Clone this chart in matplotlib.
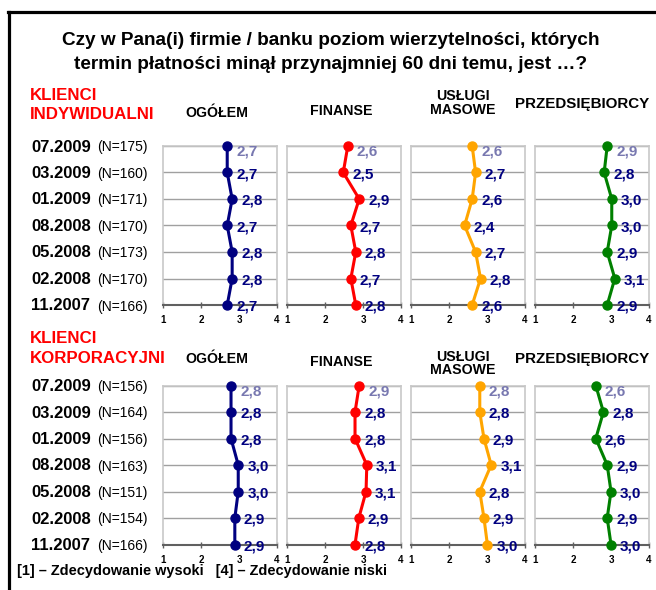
import matplotlib
matplotlib.use("Agg")
import matplotlib.pyplot as plt
from matplotlib.lines import Line2D

plt.rcParams['font.family'] = ['Liberation Sans', 'DejaVu Sans']

W, H = 656, 590

dates = ['07.2009', '03.2009', '01.2009', '08.2008', '05.2008', '02.2008', '11.2007']
n_ind = [175, 160, 171, 170, 173, 170, 166]
n_korp = [156, 164, 156, 163, 151, 154, 166]

segments = ['OGÓŁEM', 'FINANSE', 'USŁUGI\nMASOWE', 'PRZEDSIĘBIORCY']
seg_colors = ['#000080', '#FF0000', '#FFA500', '#008000']

# Klienci indywidualni
ind_ogolem = [2.69, 2.69, 2.82, 2.69, 2.82, 2.82, 2.69]
ind_finanse = [2.60, 2.48, 2.90, 2.68, 2.81, 2.68, 2.81]
ind_uslugi = [2.61, 2.70, 2.61, 2.41, 2.70, 2.83, 2.61]
ind_przeds = [2.90, 2.82, 3.02, 3.02, 2.90, 3.10, 2.90]

# Klienci korporacyjni
korp_ogolem = [2.79, 2.79, 2.79, 2.98, 2.98, 2.89, 2.89]
korp_finanse = [2.90, 2.79, 2.79, 3.10, 3.08, 2.89, 2.79]
korp_uslugi = [2.81, 2.81, 2.92, 3.11, 2.81, 2.92, 3.01]
korp_przeds = [2.60, 2.80, 2.60, 2.90, 3.00, 2.90, 3.00]

scale_ticks = [1, 2, 3, 4]

fig = plt.figure(figsize=(W / 100, H / 100), dpi=100)


def fx(x):
    return x / W


def fy(y):
    return 1 - y / H


def ftext(x, y, s, **kw):
    fig.text(fx(x), fy(y), s, **kw)


# frame lines (top + left)
fig.add_artist(Line2D([fx(9), fx(9)], [0, fy(12)], color='black', lw=2.3))
fig.add_artist(Line2D([fx(8), 1], [fy(12), fy(12)], color='black', lw=2.3))

# title
ftext(331, 45, 'Czy w Pana(i) firmie / banku poziom wierzytelności, których',
      ha='center', va='baseline', fontsize=13.7, fontweight='bold')
ftext(331, 69, 'termin płatności minął przynajmniej 60 dni temu, jest …?',
      ha='center', va='baseline', fontsize=13.7, fontweight='bold')

panel_lefts = [163, 287, 411, 535]
panel_w = 114
panel_h = 159


def draw_block(top, series, ns, group_lines, header_pos):
    # group label
    for (txt, yb) in group_lines:
        ftext(30, yb, txt, ha='left', va='baseline', fontsize=12.2,
              fontweight='bold', color='#FF0000')
    # headers
    for (txt, xc, yb, fs) in header_pos:
        ftext(xc, yb, txt, ha='center', va='baseline', fontsize=fs,
              fontweight='bold')
    # row labels
    row_step = panel_h / 6
    for i, (d, n) in enumerate(zip(dates, ns)):
        yb = top + i * row_step + 5.5
        ftext(31, yb, d, ha='left', va='baseline', fontsize=12, fontweight='bold')
        ftext(97, yb, f'(N={n})', ha='left', va='baseline', fontsize=10)
    for k, (vals, col) in enumerate(zip(series, seg_colors)):
        ax = fig.add_axes([fx(panel_lefts[k]), fy(top + panel_h),
                           panel_w / W, panel_h / H])
        ax.set_xlim(1, 4)
        ax.set_ylim(6, 0)
        ax.set_yticks(range(7))
        ax.yaxis.grid(True, color='#A0A0A0', lw=1)
        ax.tick_params(axis='y', left=False, labelleft=False)
        ax.set_xticks(scale_ticks)
        ax.set_xticklabels([str(t) for t in scale_ticks], fontsize=7,
                           fontweight='bold')
        ax.tick_params(axis='x', direction='inout', length=4, width=1,
                       color='#606060', pad=5.5)
        for s in ['left', 'right', 'top']:
            ax.spines[s].set_color('#C8C8C8')
            ax.spines[s].set_linewidth(1.2)
        ax.spines['bottom'].set_color('#606060')
        ax.spines['bottom'].set_linewidth(1.5)
        ax.set_axisbelow(True)
        rows = list(range(len(vals)))
        ax.plot(vals, rows, color=col, lw=2.2, marker='o', ms=6.5,
                clip_on=False, zorder=3)
        for i, v in enumerate(vals):
            lab = f'{v:.1f}'.replace('.', ',')
            c = '#7878B0' if i == 0 else '#000080'
            dy = -4 if i == 0 else -1.2
            ax.annotate(lab, (v, i), xytext=(6.5, dy), textcoords='offset points',
                        ha='left', va='center', fontsize=11, fontweight='bold',
                        color=c, annotation_clip=False, zorder=4)


draw_block(146, [ind_ogolem, ind_finanse, ind_uslugi, ind_przeds], n_ind,
           [('KLIENCI', 100), ('INDYWIDUALNI', 119)],
           [('OGÓŁEM', 217, 117, 10.2), ('FINANSE', 341, 115, 10.2),
            ('USŁUGI', 463, 100, 10.2), ('MASOWE', 463, 114, 10.2),
            ('PRZEDSIĘBIORCY', 582, 108, 10.9)])

draw_block(385.5, [korp_ogolem, korp_finanse, korp_uslugi, korp_przeds], n_korp,
           [('KLIENCI', 343), ('KORPORACYJNI', 363)],
           [('OGÓŁEM', 217, 363, 10.2), ('FINANSE', 341, 366, 10.2),
            ('USŁUGI', 463, 361, 10.2), ('MASOWE', 463, 374, 10.2),
            ('PRZEDSIĘBIORCY', 582, 363, 10.9)])

ftext(17, 575, '[1] – Zdecydowanie wysoki   [4] – Zdecydowanie niski',
      ha='left', va='baseline', fontsize=10.45, fontweight='bold')

fig.savefig('out.png', dpi=100)
